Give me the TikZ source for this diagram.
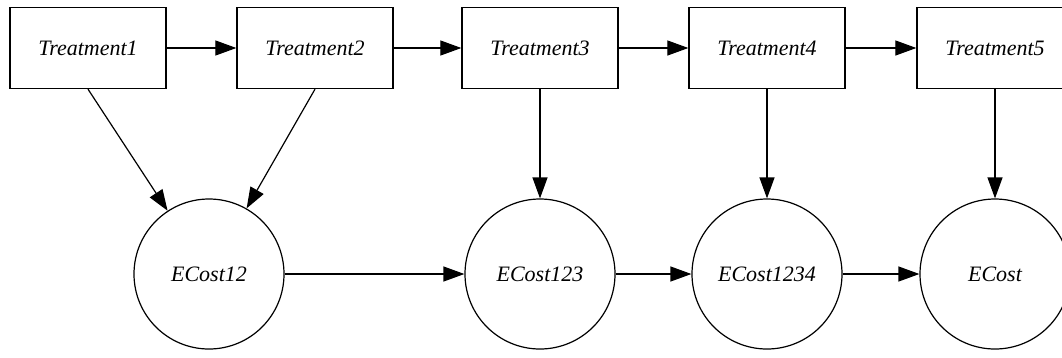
\documentclass[tikz,border=0pt]{standalone}
\usepackage{fontspec}
\setmainfont{Liberation Serif}
\usetikzlibrary{arrows.meta}
\begin{document}
\begin{tikzpicture}[x=1pt, y=-1pt, >={Triangle[length=21pt,width=15pt]}, line width=1.2pt,
  every node/.style={font=\fontsize{22}{26}\selectfont\itshape},
  treat/.style={draw, minimum width=156pt, minimum height=81pt, line width=1.3pt},
  cost/.style={draw, circle, minimum size=150pt, inner sep=0pt}]
  \clip (0,0) rectangle (1062,357);
  % treatments
  \node[treat] (t1) at (88,48) {Treatment1};
  \node[treat] (t2) at (315,48) {Treatment2};
  \node[treat] (t3) at (540,48) {Treatment3};
  \node[treat] (t4) at (767,48) {Treatment4};
  \node[treat] (t5) at (995,48) {Treatment5};
  % expected costs
  \node[cost] (c12) at (209,274) {ECost12};
  \node[cost] (c123) at (540,274) {ECost123};
  \node[cost] (c1234) at (767,274) {ECost1234};
  \node[cost] (c) at (995,274) {ECost};
  \draw[->] (t1) -- (t2);
  \draw[->] (t2) -- (t3);
  \draw[->] (t3) -- (t4);
  \draw[->] (t4) -- (t5);
  \draw[->] (t1.south) -- (c12);
  \draw[->] (t2.south) -- (c12);
  \draw[->] (t3) -- (c123);
  \draw[->] (t4) -- (c1234);
  \draw[->] (t5) -- (c);
  \draw[->] (c12) -- (c123);
  \draw[->] (c123) -- (c1234);
  \draw[->] (c1234) -- (c);
\end{tikzpicture}
\end{document}
